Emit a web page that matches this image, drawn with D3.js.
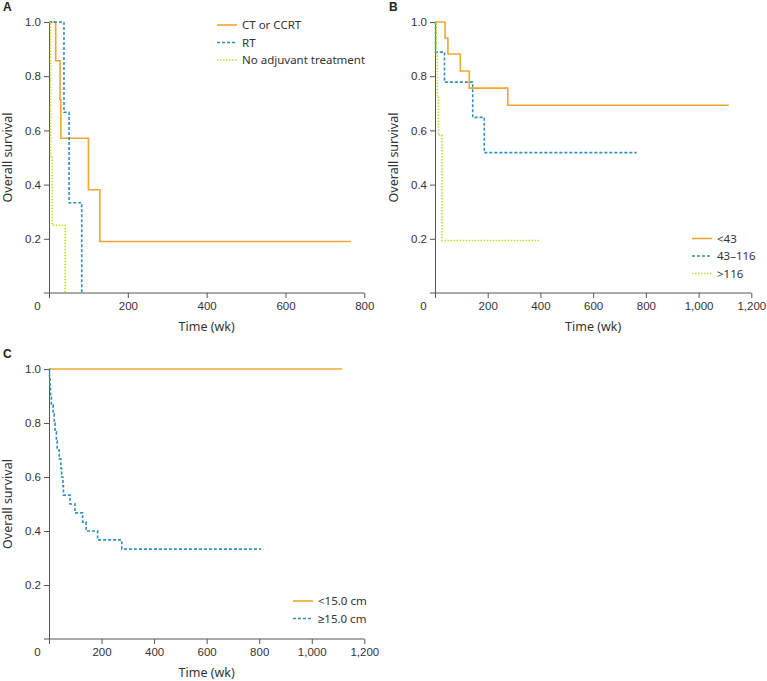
<!DOCTYPE html>
<html>
<head>
<meta charset="utf-8">
<script src="https://cdn.jsdelivr.net/npm/d3@7"></script>
<style>
  body { margin: 0; background: #fff; }
  .tick text { font-family: "Liberation Sans", Arial, sans-serif; font-size: 11.5px; fill: #333; }
  .ttl { font-family: "Noto Sans", sans-serif; font-size: 12.5px; fill: #333; }
  .leg { font-family: "Noto Sans", sans-serif; font-size: 11.5px; fill: #333; }
  .panel { font-family: "Liberation Sans", Arial, sans-serif; font-size: 12px; font-weight: bold; fill: #222; }
</style>
</head>
<body>
<div id="chart"></div>
<script>
// ---- data ----
// Panel A: adjuvant treatment
let ctTimes = [0, 17, 28, 30, 100, 129, 766]
let ctSurv = [1, 0.857, 0.714, 0.571, 0.381, 0.19, 0.19]
let rtTimes = [0, 38, 51, 83]
let rtSurv = [1, 0.667, 0.333, 0]
let noTimes = [0, 4, 8, 41]
let noSurv = [1, 0.5, 0.25, 0]

// Panel B: <43 / 43-116 / >116
let lowTimes = [0, 38, 49, 96, 130, 276, 1114]
let lowSurv = [1, 0.941, 0.882, 0.819, 0.756, 0.693, 0.693]
let midTimes = [0, 2, 36, 143, 187, 765]
let midSurv = [1, 0.889, 0.778, 0.648, 0.518, 0.518]
let highTimes = [0, 5, 9, 13, 27, 395]
let highSurv = [1, 0.875, 0.729, 0.583, 0.194, 0.194]

// Panel C: tumour size
let smallTimes = [0, 1115]
let smallSurv = [1, 1]
let largeTimes = [0, 2, 4, 6, 9, 16, 20, 23, 28, 31, 39, 45, 48, 53, 55, 80, 99, 128, 141, 185, 277, 807]
let largeSurv = [1, 0.967, 0.933, 0.9, 0.867, 0.833, 0.8, 0.767, 0.733, 0.7, 0.667, 0.633, 0.6, 0.567, 0.533, 0.5, 0.467, 0.433, 0.4, 0.367, 0.333, 0.333]

let yTicks = [0.2, 0.4, 0.6, 0.8, 1.0]
let xTicksA = [0, 200, 400, 600, 800]
let xTicksBC = [0, 200, 400, 600, 800, 1000, 1200]

let legendA = ['CT or CCRT', 'RT', 'No adjuvant treatment']
let legendB = ['<43', '43\u2013116', '>116']
let legendC = ['<15.0 cm', '\u226515.0 cm']

// line styles
let orange = '#f2a630', blue = '#2f8fbf', lime = '#c6d92e'
let styles = [
    { color: orange, dash: null },
    { color: blue, dash: '3,2' },
    { color: lime, dash: '1.5,1.5' }
]

let svg = d3.select('#chart').append('svg')
    .attr('width', 767).attr('height', 681)

function drawPanel(cfg) {
    let g = svg.append('g')
    let x = d3.scaleLinear().domain([0, cfg.xMax]).range([cfg.left, cfg.right])
    let y = d3.scaleLinear().domain([0, 1]).range([cfg.bottom, cfg.top])

    // panel letter
    g.append('text').attr('class', 'panel').attr('x', cfg.left - 46).attr('y', cfg.top - 11).text(cfg.letter)

    // y axis
    let ya = g.append('g').attr('transform', 'translate(' + cfg.left + ',0)')
        .call(d3.axisLeft(y).tickValues(yTicks).tickFormat(d3.format('.1f')).tickSize(5).tickSizeOuter(0).tickPadding(3))
    ya.select('.domain').attr('stroke', '#555')
    ya.selectAll('.tick line').attr('stroke', '#555')

    // x axis
    let xa = g.append('g').attr('transform', 'translate(0,' + cfg.bottom + ')')
        .call(d3.axisBottom(x).tickValues(cfg.xTicks).tickFormat(d3.format(',')).tickSize(5).tickSizeOuter(0).tickPadding(4))
    xa.select('.domain').attr('d', 'M' + (cfg.left - 5) + ',0H' + cfg.right).attr('stroke', '#555')
    xa.selectAll('.tick line').attr('stroke', '#555')
    xa.selectAll('.tick').filter(d => d === 0).select('text').attr('x', -12)

    // axis titles
    g.append('text').attr('class', 'ttl')
        .attr('transform', 'translate(' + (cfg.left - 37) + ',' + ((cfg.top + cfg.bottom) / 2) + ') rotate(-90)')
        .attr('text-anchor', 'middle').text('Overall survival')
    g.append('text').attr('class', 'ttl')
        .attr('x', (cfg.left + cfg.right) / 2).attr('y', cfg.bottom + 38)
        .attr('text-anchor', 'middle').text('Time (wk)')

    // survival curves
    let line = d3.line().x(d => x(d[0])).y(d => y(d[1])).curve(d3.curveStepAfter)
    cfg.series.forEach((s, i) => {
        let pts = s.times.map((t, j) => [t, s.surv[j]])
        g.append('path').datum(pts)
            .attr('d', line)
            .attr('fill', 'none')
            .attr('stroke', styles[i].color)
            .attr('stroke-width', 1.6)
            .attr('stroke-dasharray', styles[i].dash)
    })

    // legend
    cfg.legend.forEach((name, i) => {
        let ly = cfg.legY + i * 17.5
        g.append('line').attr('x1', cfg.legX).attr('x2', cfg.legX + 20)
            .attr('y1', ly).attr('y2', ly)
            .attr('stroke', styles[i].color).attr('stroke-width', 1.6)
            .attr('stroke-dasharray', styles[i].dash)
        g.append('text').attr('class', 'leg').attr('x', cfg.legX + 25).attr('y', ly)
            .attr('dy', '0.35em').text(name)
    })
}

drawPanel({
    letter: 'A', left: 49, right: 364.3, top: 22, bottom: 293, xMax: 800, xTicks: xTicksA,
    series: [{ times: ctTimes, surv: ctSurv }, { times: rtTimes, surv: rtSurv }, { times: noTimes, surv: noSurv }],
    legend: legendA, legX: 217, legY: 25
})
drawPanel({
    letter: 'B', left: 435, right: 751.3, top: 22, bottom: 293, xMax: 1200, xTicks: xTicksBC,
    series: [{ times: lowTimes, surv: lowSurv }, { times: midTimes, surv: midSurv }, { times: highTimes, surv: highSurv }],
    legend: legendB, legX: 692, legY: 238.5
})
drawPanel({
    letter: 'C', left: 49, right: 364.3, top: 369, bottom: 639, xMax: 1200, xTicks: xTicksBC,
    series: [{ times: smallTimes, surv: smallSurv }, { times: largeTimes, surv: largeSurv }],
    legend: legendC, legX: 293, legY: 601
})
</script>
</body>
</html>
